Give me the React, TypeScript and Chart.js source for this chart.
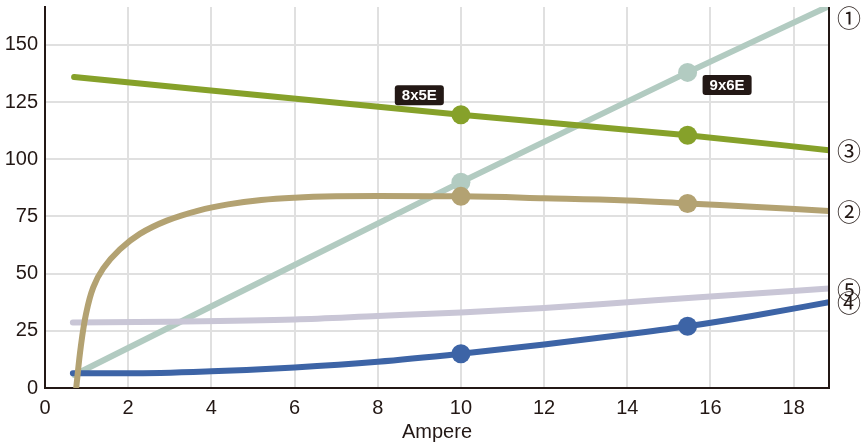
import { useEffect, useRef } from "react";
import Chart from "chart.js/auto";

// x axis range / ticks
const xMax = 18.85;
const yMax = 166.6;
const xStep = 2;
const yStep = 25;
const axisTitle = "Ampere";

// marker positions (x values)
const markerX = [10, 15.45];

// series ①: teal straight line
const tealX = [0.7, 10, 15.45, 18.85];
const tealY = [5.7, 90, 138, 167];
// series ③: green
const greenX = [0.7, 10, 15.45, 18.85];
const greenY = [136, 119.5, 110.5, 104];
// series ②: tan curve
const tanX = [0.75, 0.86, 0.99, 1.16, 1.4, 1.8, 2.28, 2.93, 3.69, 4.4, 5.2, 6, 7, 8, 10, 12, 14, 15.45, 17, 18.85];
const tanY = [0, 18, 32.7, 44, 52.3, 60.6, 67.4, 73.2, 77.6, 80.3, 82.2, 83.2, 83.8, 84, 83.8, 83, 82, 80.7, 79.3, 77.4];
// series ⑤: lavender
const lavX = [0.67, 3, 6, 8, 10, 12, 14, 16, 18.85];
const lavY = [28.6, 29, 30, 31.5, 33, 35, 37.5, 40, 43.5];
// series ④: blue
const blueX = [0.67, 2, 4, 6, 8, 10, 12, 14, 15.45, 17, 18.85];
const blueY = [6.4, 6.4, 7.3, 9, 11.5, 15, 19, 23.5, 27, 31.5, 37.5];

// callout labels
const noteText = ["8x5E", "9x6E"];
const noteX = [9.0, 16.4];
const noteY = [128, 132.5];

const zip = (xs: number[], ys: number[]) => xs.map((x, i) => ({ x, y: ys[i] }));

export default function App() {
  const ref = useRef<HTMLCanvasElement>(null);
  useEffect(() => {
    const ink = "#231815";
    const mk = (label: string, xs: number[], ys: number[], color: string, markers: boolean, endMark: string, mode: string) => ({
      label,
      data: zip(xs, ys),
      borderColor: color,
      backgroundColor: color,
      borderWidth: 6,
      borderCapStyle: "round" as const,
      cubicInterpolationMode: mode,
      tension: 0.4,
      pointRadius: (c: any) => (markers && markerX.some((m) => Math.abs(m - c.raw.x) < 1e-6) ? 9.5 : 0),
      pointHoverRadius: 0,
      pointBorderWidth: 0,
      endMark,
    });
    const datasets: any[] = [
      mk("green", greenX, greenY, "#86a12a", true, "③", "monotone"),
      mk("tan", tanX, tanY, "#b3a272", true, "②", "default"),
      mk("blue", blueX, blueY, "#3d64a6", true, "④", "monotone"),
      mk("lav", lavX, lavY, "#c9c6d6", false, "⑤", "monotone"),
      mk("teal", tealX, tealY, "#b2cbc1", true, "①", "monotone"),
    ];
    const deco = {
      id: "deco",
      afterDraw(chart: any) {
        const { ctx, chartArea: a, scales } = chart;
        ctx.save();
        ctx.strokeStyle = ink;
        ctx.lineWidth = 2;
        ctx.beginPath();
        ctx.moveTo(a.right, a.top);
        ctx.lineTo(a.right, a.bottom);
        ctx.stroke();
        // callouts
        ctx.font = "bold 15px 'Liberation Sans', Arial, sans-serif";
        ctx.textAlign = "center";
        ctx.textBaseline = "middle";
        noteText.forEach((t, i) => {
          const cx = scales.x.getPixelForValue(noteX[i]);
          const cy = scales.y.getPixelForValue(noteY[i]);
          const w = ctx.measureText(t).width + 14;
          const h = 20;
          ctx.fillStyle = ink;
          ctx.beginPath();
          ctx.roundRect(cx - w / 2, cy - h / 2, w, h, 3);
          ctx.fill();
          ctx.fillStyle = "#ffffff";
          ctx.fillText(t, cx, cy + 1);
        });
        // end marks
        ctx.font = "24px 'Noto Sans CJK JP', 'DejaVu Sans', sans-serif";
        ctx.fillStyle = ink;
        chart.data.datasets.forEach((d: any) => {
          const last = d.data[d.data.length - 1];
          let y = scales.y.getPixelForValue(last.y);
          y = Math.max(y, a.top + 10);
          ctx.fillText(d.endMark, a.right + 20, y + 1);
        });
        ctx.restore();
      },
    };
    const chart = new Chart(ref.current!, {
      type: "line",
      data: { datasets },
      options: {
        animation: false,
        responsive: true,
        maintainAspectRatio: false,
        layout: { padding: { top: 7, right: 37, left: 0, bottom: 0 } },
        plugins: { legend: { display: false }, tooltip: { enabled: false } },
        scales: {
          x: {
            type: "linear",
            min: 0,
            max: xMax,
            afterFit: (s: any) => {
              s.height = 56;
              s.paddingLeft = 0;
              s.paddingRight = 0;
            },
            ticks: {
              stepSize: xStep,
              includeBounds: false,
              padding: 8,
              color: ink,
              font: { size: 20, family: "'Liberation Sans', Arial, sans-serif" },
              maxRotation: 0,
            },
            grid: { color: "#e0e0e0", lineWidth: 2, drawTicks: false },
            border: { display: true, color: ink, width: 2 },
            title: {
              display: true,
              text: axisTitle,
              color: ink,
              padding: { top: 0, bottom: 0 },
              font: { size: 20, family: "'Liberation Sans', Arial, sans-serif" },
            },
          },
          y: {
            type: "linear",
            min: 0,
            max: yMax,
            afterFit: (s: any) => {
              s.width = 45;
              s.paddingTop = 0;
              s.paddingBottom = 0;
            },
            ticks: {
              stepSize: yStep,
              includeBounds: false,
              padding: 7,
              color: ink,
              font: { size: 20, family: "'Liberation Sans', Arial, sans-serif" },
            },
            grid: { color: "#e0e0e0", lineWidth: 2, drawTicks: false },
            border: { display: true, color: ink, width: 2 },
          },
        },
      } as any,
      plugins: [deco],
    });
    return () => chart.destroy();
  }, []);
  return (
    <div style={{ position: "fixed", left: 0, top: 0, width: 866, height: 444, background: "#fff" }}>
      <canvas ref={ref} />
    </div>
  );
}
